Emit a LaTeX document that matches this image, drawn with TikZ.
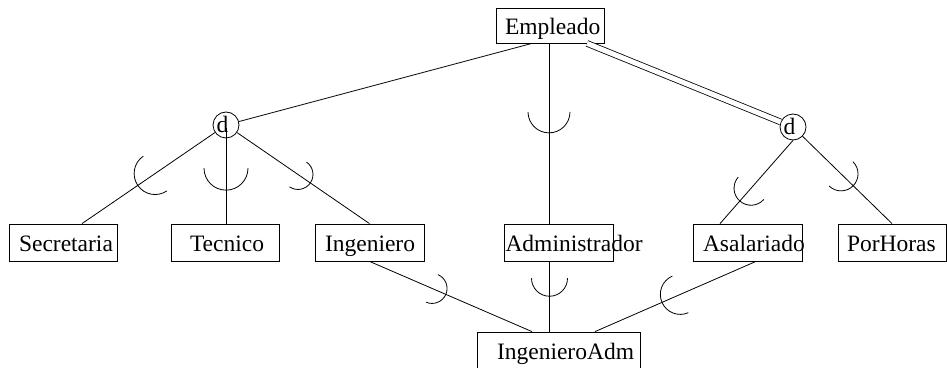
\documentclass[tikz,border=0pt]{standalone}
\usepackage{fontspec}
\setmainfont{Liberation Serif}
\usetikzlibrary{calc}
\newcommand{\subarc}[3]{\draw[conn] let \p1=($(#2)-(#1)$), \n1={atan2(\y1,\x1)} in ($(#1)+(\n1+90:#3)$) arc[start angle=\n1+90, delta angle=180, radius=#3];}
\begin{document}
\begin{tikzpicture}[x=1pt,y=1pt,
  conn/.style={line width=0.8pt},
  box/.style={draw, line width=0.8pt, rectangle, inner sep=0pt, minimum height=37pt,
    text height=17pt, text depth=0pt, align=left, font=\fontsize{23.5}{28}\selectfont},
  disc/.style={draw, circle, line width=0.8pt, minimum size=26pt, inner sep=0pt,
    text height=16pt, text depth=0pt, font=\fontsize{23.5}{28}\selectfont}]
\useasboundingbox (0,0) rectangle (947,367);
% entity boxes
\node[box, text width=108pt, minimum height=35pt, text height=19pt] (emp) at (550,341.5) {\hspace*{9pt}\rlap{Empleado}};
\node[box, text width=108pt] (sec) at (63,124.5) {\hspace*{10pt}\rlap{Secretaria}};
\node[box, text width=108pt] (tec) at (225,124.5) {\hspace*{19pt}\rlap{Tecnico}};
\node[box, text width=109pt] (ing) at (369.5,124.5) {\hspace*{10pt}\rlap{Ingeniero}};
\node[box, text width=109pt] (adm) at (558.5,124.5) {\hspace*{1.5pt}\rlap{Administrador}};
\node[box, text width=109pt] (asa) at (747.5,124.5) {\hspace*{10pt}\rlap{Asalariado}};
\node[box, text width=108pt] (por) at (892,124.5) {\hspace*{9pt}\rlap{PorHoras}};
\node[box, text width=163pt, minimum height=40pt, text height=14pt] (iadm) at (558.5,15) {\hspace*{20pt}\rlap{IngenieroAdm}};
% disjointness circles
\node[disc] (dl) at (226,242) {\rlap{\kern-9.5pt d}};
\node[disc] (dr) at (793,240) {\rlap{\kern-9.5pt d}};
% connectors
\draw[conn] ([xshift=-18pt]emp.south) -- (dl);
\draw[conn] ([xshift=-1pt]emp.south) -- coordinate[pos=0.38] (c4) coordinate[pos=0.28] (u4) ([xshift=-9.5pt]adm.north);
\draw[conn, double, double distance=5pt] ([xshift=37pt]emp.south) -- (dr);
\draw[conn] (dl) -- coordinate[pos=0.45] (c1) coordinate[pos=0.35] (u1) ([xshift=19pt]sec.north);
\draw[conn] ([yshift=-3pt]dl.center) -- coordinate[pos=0.42] (c2) coordinate[pos=0.3] (u2) ([xshift=1pt]tec.north);
\draw[conn] (dl) -- coordinate[pos=0.46] (c3) coordinate[pos=0.36] (u3) (ing.north);
\draw[conn] (dr.south) -- coordinate[pos=0.575] (c5) coordinate[pos=0.475] (u5) ([xshift=-27.5pt]asa.north);
\draw[conn] (dr) -- coordinate[pos=0.43] (c6) coordinate[pos=0.33] (u6) (por.north);
\draw[conn] (ing.south) -- coordinate[pos=0.385] (c7) coordinate[pos=0.285] (u7) ([xshift=-26.5pt]iadm.north);
\draw[conn] ([xshift=-9pt]adm.south) -- coordinate[pos=0.24] (c8) coordinate[pos=0.1] (u8) ([xshift=-9pt]iadm.north);
\draw[conn] ([xshift=8.5pt]asa.south) -- coordinate[pos=0.47] (c9) coordinate[pos=0.37] (u9) ([xshift=36.5pt]iadm.north);
% subset symbols
\subarc{c1}{u1}{21pt}
\subarc{c2}{u2}{22pt}
\subarc{c3}{u3}{15pt}
\subarc{c4}{u4}{21pt}
\subarc{c5}{u5}{17pt}
\subarc{c6}{u6}{17pt}
\subarc{c7}{u7}{15pt}
\subarc{c8}{u8}{18pt}
\subarc{c9}{u9}{20pt}
\end{tikzpicture}
\end{document}
